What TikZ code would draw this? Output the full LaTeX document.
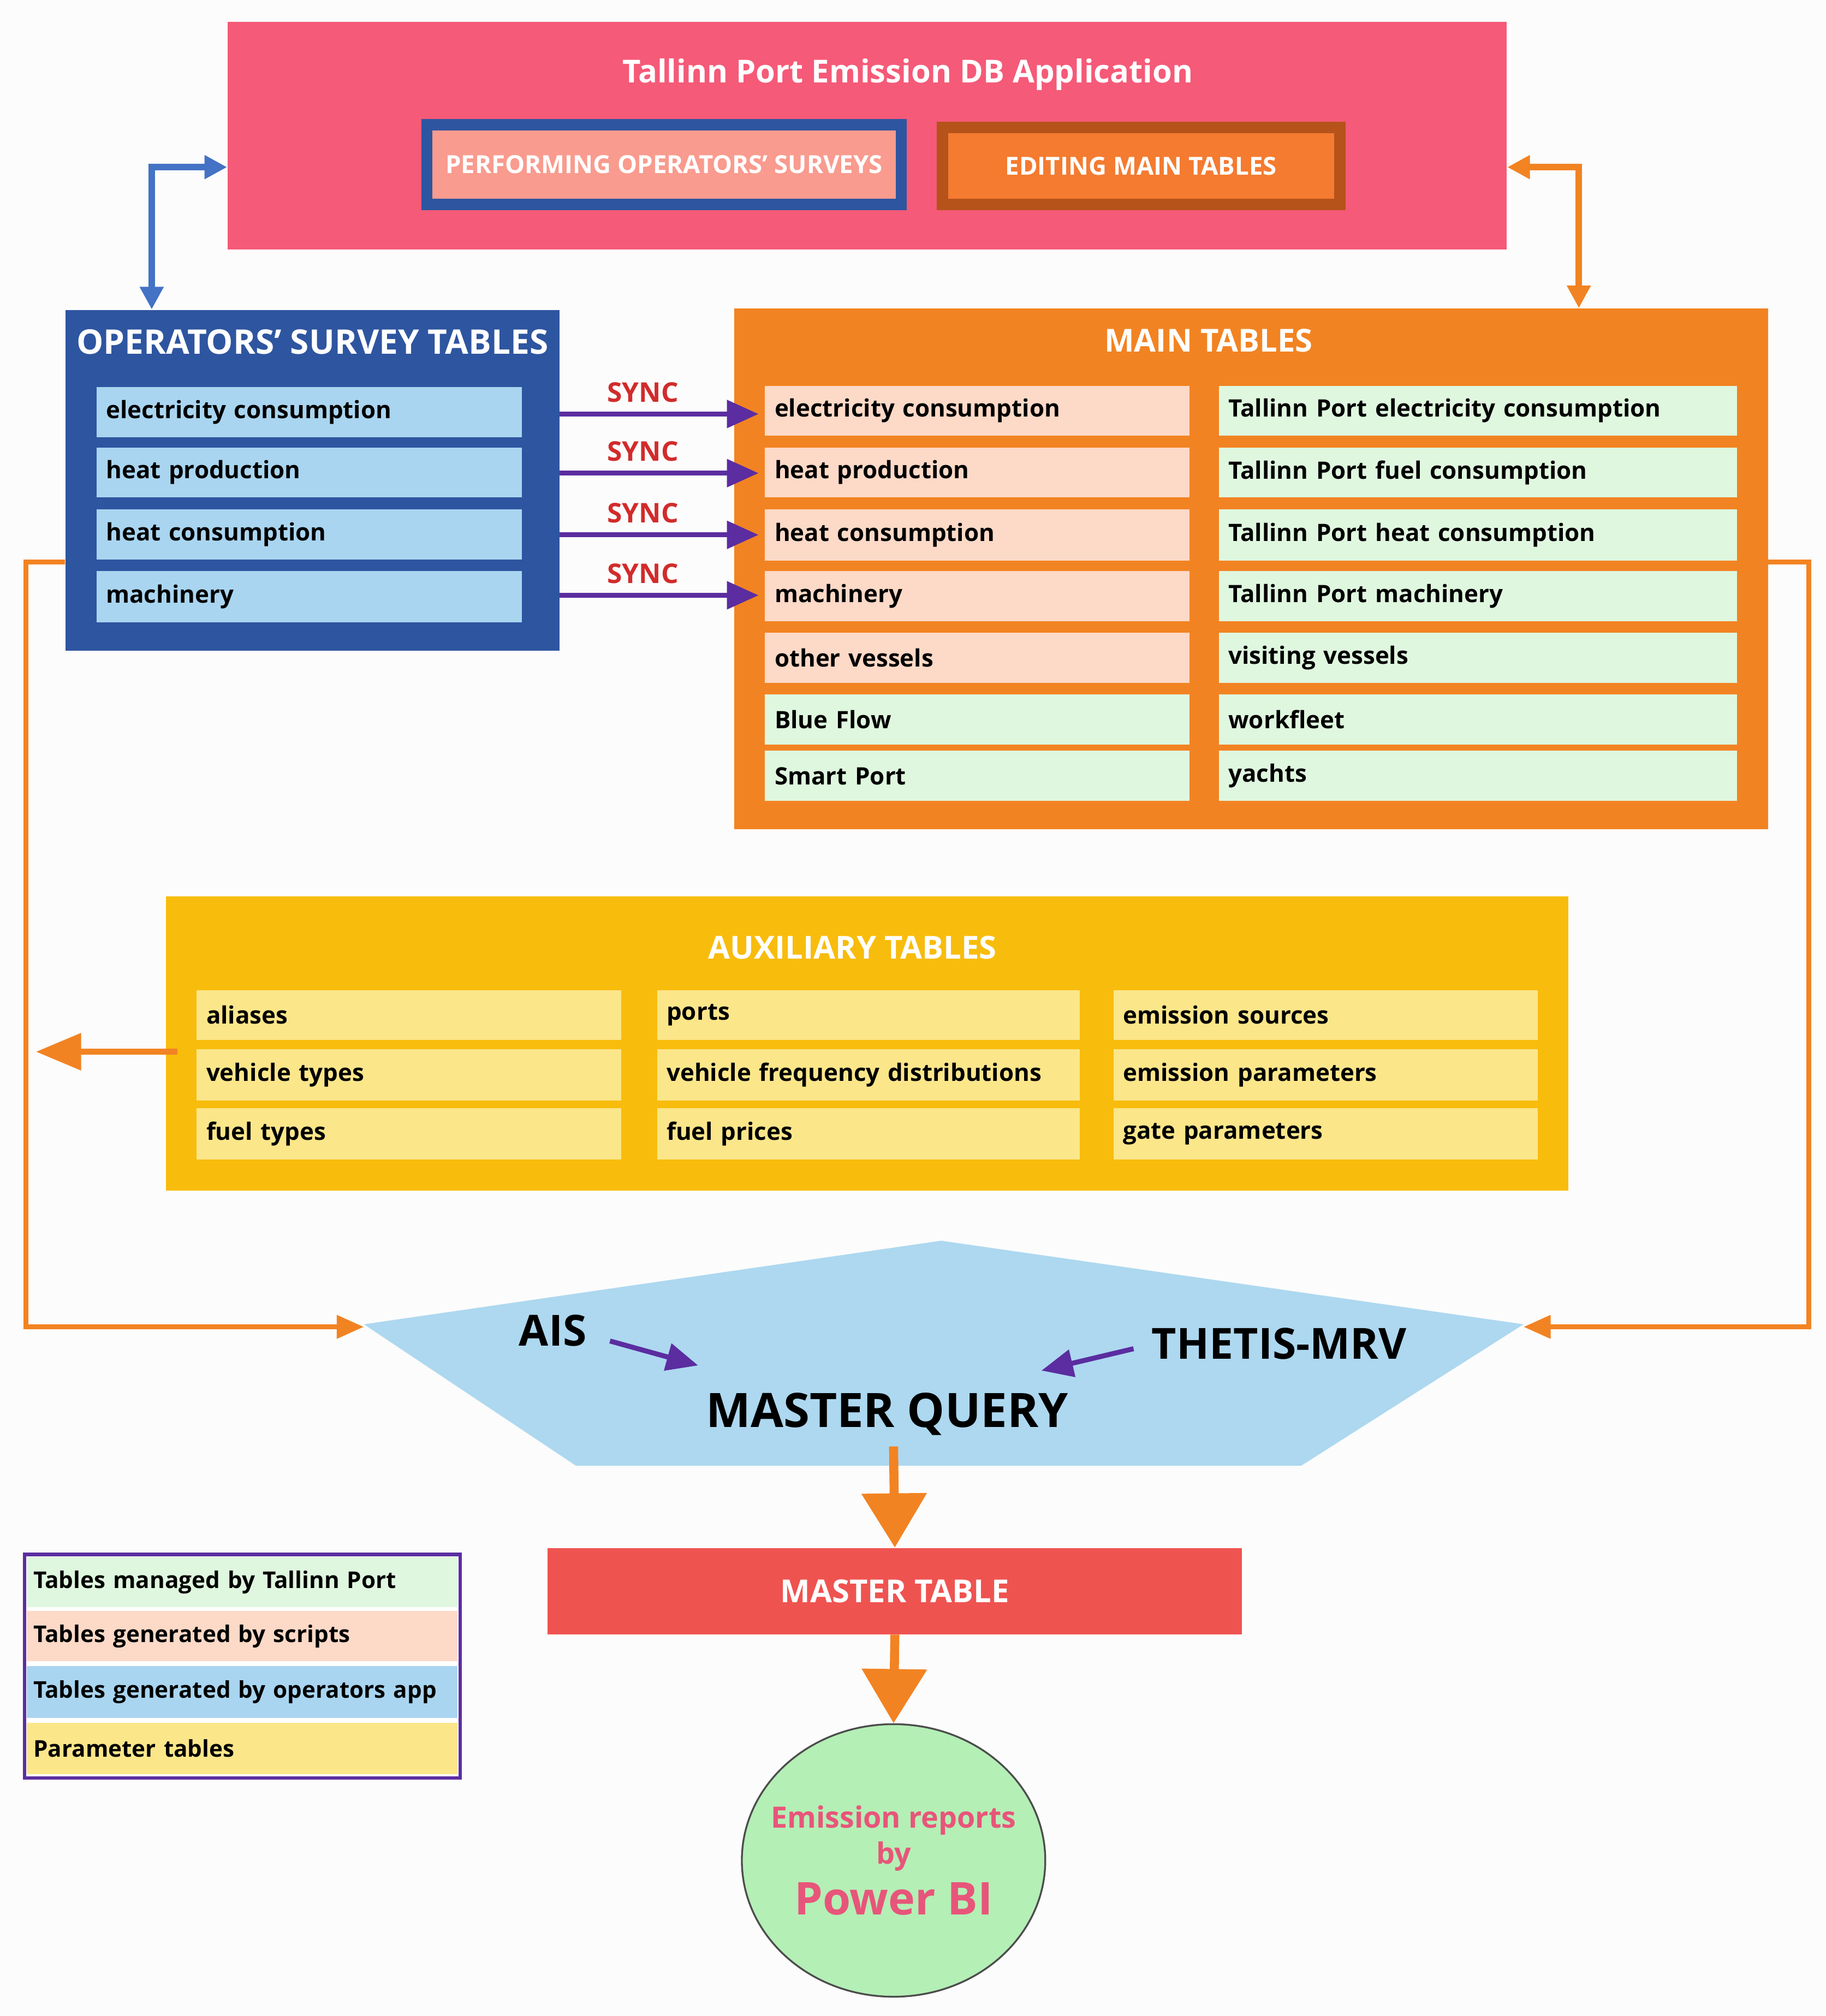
\documentclass[tikz,border=0pt]{standalone}
\usepackage{fontspec}
\setmainfont{Open Sans}
\usetikzlibrary{arrows.meta,shapes.geometric}
\definecolor{pinkbg}{HTML}{F55A78}
\definecolor{dblue}{HTML}{2E55A0}
\definecolor{lblue}{HTML}{A9D5F0}
\definecolor{orng}{HTML}{F28322}
\definecolor{salm}{HTML}{FDD9C7}
\definecolor{lgrn}{HTML}{DFF7DF}
\definecolor{gold}{HTML}{F8BC0C}
\definecolor{lyel}{HTML}{FCE68A}
\definecolor{purp}{HTML}{5B2DA0}
\definecolor{mq}{HTML}{ADD8F0}
\definecolor{mt}{HTML}{EF5350}
\definecolor{syncred}{HTML}{D22B2B}
\definecolor{pbi}{HTML}{E8557A}
\definecolor{ablue}{HTML}{4472C4}
\definecolor{perfc}{HTML}{F99B8E}
\definecolor{editc}{HTML}{F47B30}
\definecolor{editb}{HTML}{B5531A}
\definecolor{circc}{HTML}{B4EFB6}
\newcommand\bx[8][]{%
 \pgfmathsetmacro\ww{(#5-#3)*0.02}\pgfmathsetmacro\hh{(#6-#4)*0.02}\pgfmathsetmacro\tw{(#5-#3)*0.02-0.3}%
 \node[rectangle,draw=none,fill=#7,minimum width=\ww cm,minimum height=\hh cm,inner sep=0pt,#1] (#2) at ({(#3+#5)/2},{(#4+#6)/2}) {#8};}
\tikzset{row/.style={text width=\tw cm,align=left,font=\fontsize{10.6}{13}\selectfont\bfseries},
 leg/.style={text width=6.5cm,align=left,font=\fontsize{10.2}{12}\selectfont\bfseries},
 ttl/.style={text=white,font=\fontsize{14}{16}\selectfont\bfseries},
 oar/.style={draw=orng,line width=2.2pt,-{Triangle[length=12pt,width=10pt]}},
 sync/.style={draw=purp,line width=2.2pt,-{Triangle[length=14pt,width=12pt]}},
 sl/.style={text=syncred,font=\fontsize{12}{14}\selectfont\bfseries}}
\begin{document}
\begin{tikzpicture}[x=0.02cm,y=-0.02cm]
\fill[white!98!gray] (0,0) rectangle (1420,1568);
\useasboundingbox (0,0) rectangle (1420,1568);
% top
\bx{app}{177}{17}{1172}{194}{pinkbg}{}
\node[ttl] (apptitle) at (706,58) {Tallinn Port Emission DB Application};
\bx[draw=dblue,line width=5pt,text=white,font=\fontsize{11}{13}\selectfont\bfseries]{perf}{332}{97}{701}{159}{perfc}{PERFORMING OPERATORS' SURVEYS}
\bx[draw=editb,line width=5pt,text=white,font=\fontsize{11}{13}\selectfont\bfseries]{edit}{733}{99}{1042}{159}{editc}{EDITING MAIN TABLES}
% operators
\bx{ops}{51}{241}{435}{506}{dblue}{}
\node[ttl,font=\fontsize{15}{17}\selectfont\bfseries] (opst) at (243,266) {OPERATORS’ SURVEY TABLES};
\bx[row]{o1}{75}{301}{406}{340}{lblue}{electricity consumption}
\bx[row]{o2}{75}{348}{406}{387}{lblue}{heat production}
\bx[row]{o3}{75}{396}{406}{435}{lblue}{heat consumption}
\bx[row]{o4}{75}{444}{406}{484}{lblue}{machinery}
% main
\bx{main}{571}{240}{1375}{645}{orng}{}
\node[ttl] (maint) at (940,265) {MAIN TABLES};
\bx[row]{m1}{595}{300}{925}{339}{salm}{electricity consumption}
\bx[row]{m2}{595}{348}{925}{387}{salm}{heat production}
\bx[row]{m3}{595}{396}{925}{436}{salm}{heat consumption}
\bx[row]{m4}{595}{444}{925}{483}{salm}{machinery}
\bx[row]{m5}{595}{492}{925}{531}{salm}{other vessels}
\bx[row]{m6}{595}{540}{925}{579}{lgrn}{Blue Flow}
\bx[row]{m7}{595}{584}{925}{623}{lgrn}{Smart Port}
\bx[row]{n1}{948}{300}{1351}{339}{lgrn}{Tallinn Port electricity consumption}
\bx[row]{n2}{948}{348}{1351}{387}{lgrn}{Tallinn Port fuel consumption}
\bx[row]{n3}{948}{396}{1351}{436}{lgrn}{Tallinn Port heat consumption}
\bx[row]{n4}{948}{444}{1351}{483}{lgrn}{Tallinn Port machinery}
\bx[row]{n5}{948}{492}{1351}{531}{lgrn}{visiting vessels}
\bx[row]{n6}{948}{540}{1351}{579}{lgrn}{workfleet}
\bx[row]{n7}{948}{584}{1351}{623}{lgrn}{yachts}
% sync
\foreach \i/\y in {1/322,2/368,3/416,4/463}{
 \coordinate (s\i) at (435,\y); \coordinate (t\i) at (590,\y);
 \draw[sync] (s\i) -- (t\i);
 \node[sl] (sl\i) at (500,\y-17) {SYNC};}
% top connectors
\coordinate (bc) at (118,130);
\draw[draw=ablue,line width=3pt,{Triangle[length=10pt,width=10pt]}-{Triangle[length=10pt,width=10pt]}] (app.west |- bc) -- (bc) -- (bc |- ops.north);
\coordinate (oc) at (1228,130);
\draw[draw=orng,line width=3pt,{Triangle[length=10pt,width=10pt]}-{Triangle[length=10pt,width=10pt]}] (app.east |- oc) -- (oc) -- (oc |- main.north);
% aux
\bx{aux}{129}{697}{1220}{926}{gold}{}
\node[ttl] (auxt) at (663,737) {AUXILIARY TABLES};
\bx[row]{a1}{153}{770}{483}{809}{lyel}{aliases}
\bx[row]{a2}{153}{816}{483}{856}{lyel}{vehicle types}
\bx[row]{a3}{153}{862}{483}{902}{lyel}{fuel types}
\bx[row]{b1}{511}{770}{840}{809}{lyel}{ports}
\bx[row]{b2}{511}{816}{840}{856}{lyel}{vehicle frequency distributions}
\bx[row]{b3}{511}{862}{840}{902}{lyel}{fuel prices}
\bx[row]{c1}{866}{770}{1196}{809}{lyel}{emission sources}
\bx[row]{c2}{866}{816}{1196}{856}{lyel}{emission parameters}
\bx[row]{c3}{866}{862}{1196}{902}{lyel}{gate parameters}
\coordinate (auxs) at (138,818); \coordinate (auxe) at (28,818);
\draw[draw=orng,line width=2.5pt,-{Triangle[length=20pt,width=16pt]}] (auxs) -- (auxe);
% master query
\fill[mq] (283,1030) -- (732,965) -- (1185,1030) -- (1012,1140) -- (448,1140) -- cycle;
\coordinate (mql) at (283,1032); \coordinate (mqr) at (1185,1032);
\draw[oar] (ops.west |- 0,437) -- (20,437) -- (20,1032) -- (mql);
\draw[oar] (main.east |- 0,437) -- (1407,437) -- (1407,1032) -- (mqr);
\node[font=\fontsize{19}{22}\selectfont\bfseries] (ais) at (430,1035) {AIS};
\node[font=\fontsize{19}{22}\selectfont\bfseries] (thetis) at (995,1045) {THETIS-MRV};
\node[font=\fontsize{21}{24}\selectfont\bfseries] (mqt) at (690,1100) {MASTER QUERY};
\coordinate (aisa) at (543,1062); \coordinate (tha) at (810,1066);
\draw[sync] (ais.east) ++(12,8) -- (aisa);
\draw[sync] (thetis.west) ++(-8,4) -- (tha);
% master table
\bx[text=white,font=\fontsize{14}{16}\selectfont\bfseries]{mtab}{426}{1204}{966}{1271}{mt}{MASTER TABLE}
\coordinate (mqb) at (695,1125);
\draw[draw=orng,line width=4pt,-{Triangle[length=24pt,width=28pt]}] (mqb) -- (mtab.north);
\node[ellipse,draw=black!70,line width=0.8pt,fill=circc,inner sep=0pt,minimum width=236*0.02cm,minimum height=212*0.02cm] (pbi) at (695,1447) {};
\node[text=pbi,align=center,font=\bfseries] (pbit) at (695,1447)
 {{\fontsize{13}{16}\selectfont Emission reports}\\[2pt]{\fontsize{13}{16}\selectfont by}\\[4pt]{\fontsize{20}{22}\selectfont Power BI}};
\draw[draw=orng,line width=4pt,-{Triangle[length=24pt,width=28pt]}] (mtab.south) -- (pbi.north);
% legend
\bx[draw=purp,line width=1.5pt]{legb}{19}{1209}{358}{1383}{white}{}
\bx[leg]{l1}{21}{1211}{356}{1250}{lgrn}{Tables managed by Tallinn Port}
\bx[leg]{l2}{21}{1253}{356}{1292}{salm}{Tables generated by scripts}
\bx[leg]{l3}{21}{1296}{356}{1336}{lblue}{Tables generated by operators app}
\bx[leg]{l4}{21}{1340}{356}{1380}{lyel}{Parameter tables}
\end{tikzpicture}
\end{document}
